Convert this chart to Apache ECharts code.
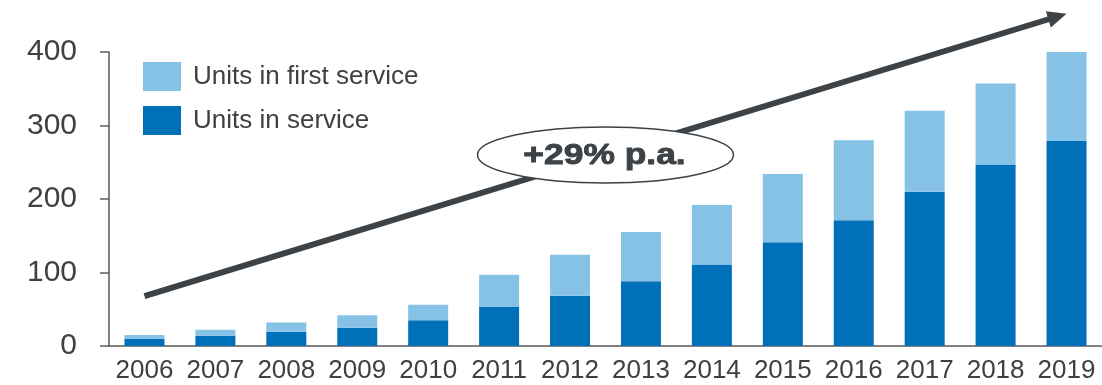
<!DOCTYPE html>
<html>
<head>
<meta charset="utf-8">
<script src="https://cdn.jsdelivr.net/npm/echarts@6/dist/echarts.min.js"></script>
<style>
  html, body { margin: 0; padding: 0; background: #ffffff; }
  #chart { width: 1102px; height: 385px; }
</style>
</head>
<body>
<div id="chart"></div>
<script>
// ---- data ----
const years = ['2006','2007','2008','2009','2010','2011','2012','2013','2014','2015','2016','2017','2018','2019'];
const unitsInService = [10, 14, 19.5, 25, 35, 53, 68.5, 88, 111, 141, 171, 210, 247, 279];
const unitsInFirstService = [5, 8, 12.5, 17, 21, 44, 55.5, 67, 81, 93, 109, 110, 110, 121];
const yTicks = [0, 100, 200, 300, 400];
const growthLabel = '+29% p.a.';
// trend arrow anchors in data space: [category, value]
const arrowStart = ['2006', 68];
const arrowEnd = ['2019', 452];

const FONT = "'Liberation Sans', Arial, sans-serif";
const TEXT = '#404040';
const AXIS = '#595959';
const DARK = '#0070b9';
const LIGHT = '#86c1e6';
const ARROW = '#3c4246';

const chart = echarts.init(document.getElementById('chart'), null, { renderer: 'canvas' });

chart.setOption({
  animation: false,
  backgroundColor: '#ffffff',
  grid: { left: 109, right: 0, top: 52, bottom: 39, containLabel: false },
  legend: {
    orient: 'vertical',
    left: 143,
    top: 62,
    padding: 0,
    itemWidth: 38,
    itemHeight: 29,
    itemGap: 15,
    icon: 'rect',
    data: ['Units in first service', 'Units in service'],
    textStyle: { fontFamily: FONT, fontSize: 26, color: TEXT, lineHeight: 29, padding: [0, 0, 0, 7] }
  },
  xAxis: {
    type: 'category',
    data: years,
    axisLine: { show: true, lineStyle: { color: AXIS, width: 1.5 } },
    axisTick: { show: false },
    axisLabel: { fontFamily: FONT, fontSize: 26, color: TEXT, margin: 12, interval: 0 }
  },
  yAxis: {
    type: 'value',
    min: yTicks[0],
    max: yTicks[yTicks.length - 1],
    interval: 100,
    splitLine: { show: false },
    axisLine: { show: true, lineStyle: { color: AXIS, width: 1.5 } },
    axisTick: { show: true, inside: false, length: 9, lineStyle: { color: AXIS, width: 1.5 } },
    axisLabel: { fontFamily: FONT, fontSize: 30, color: TEXT, margin: 32 }
  },
  series: [
    {
      name: 'Units in service',
      type: 'bar',
      stack: 'units',
      barWidth: 40,
      itemStyle: { color: DARK },
      data: unitsInService
    },
    {
      name: 'Units in first service',
      type: 'bar',
      stack: 'units',
      barWidth: 40,
      itemStyle: { color: LIGHT },
      data: unitsInFirstService
    }
  ]
});

// ---- annotation: trend arrow with ellipse label ----
const p0 = chart.convertToPixel({ seriesIndex: 0 }, arrowStart);
const p1 = chart.convertToPixel({ seriesIndex: 0 }, arrowEnd);
const dx = p1[0] - p0[0], dy = p1[1] - p0[1];
const len = Math.sqrt(dx * dx + dy * dy);
const ux = dx / len, uy = dy / len;
const headLen = 19, headHalf = 8.5;
const base = [p1[0] - ux * headLen, p1[1] - uy * headLen];
const nx = -uy, ny = ux;
const mid = [(p0[0] + p1[0]) / 2, (p0[1] + p1[1]) / 2];

chart.setOption({
  graphic: [
    {
      type: 'line', z: 10, silent: true,
      shape: { x1: p0[0], y1: p0[1], x2: base[0] + ux * 2, y2: base[1] + uy * 2 },
      style: { stroke: ARROW, lineWidth: 6 }
    },
    {
      type: 'polygon', z: 10, silent: true,
      shape: { points: [
        [p1[0], p1[1]],
        [base[0] + nx * headHalf, base[1] + ny * headHalf],
        [base[0] - nx * headHalf, base[1] - ny * headHalf]
      ] },
      style: { fill: ARROW }
    },
    {
      type: 'ellipse', z: 11, silent: true,
      shape: { cx: mid[0], cy: mid[1], rx: 128, ry: 28 },
      style: { fill: '#ffffff', stroke: ARROW, lineWidth: 1.5 }
    },
    {
      type: 'text', z: 12, silent: true,
      x: mid[0] - 1, y: mid[1] + 1,
      scaleX: 1.18,
      style: {
        text: growthLabel,
        fontFamily: FONT, fontSize: 30, fontWeight: 'bold',
        fill: ARROW, stroke: ARROW, lineWidth: 0.9,
        align: 'center', verticalAlign: 'middle'
      }
    }
  ]
});
</script>
</body>
</html>
